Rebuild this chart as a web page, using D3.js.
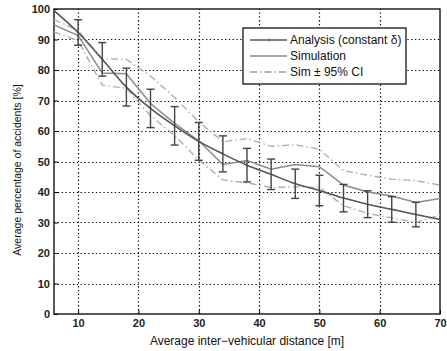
<!DOCTYPE html>
<html>
<head>
<meta charset="utf-8">
<script src="https://cdn.jsdelivr.net/npm/d3@7"></script>
<style>
  body { margin: 0; background: #fff; }
  text { font-family: "Liberation Sans", Arial, sans-serif; }
</style>
</head>
<body>
<div id="chart"></div>
<script>
"use strict";

// distances [m]
const distances = [6, 10, 14, 18, 22, 26, 30, 34, 38, 42, 46, 50, 54, 58, 62, 66, 70];

// analysis curve (constant delta) and its error bars (half width, null = no bar)
const analysis = [99.5, 92.3, 83.5, 74.4, 67.4, 61.7, 56.6, 52.5, 48.8, 45.8, 42.7, 40.5, 38.0, 36.0, 34.3, 32.6, 31.0];
const analysisErr = [null, 4.2, 5.5, 6.2, 6.3, 6.3, 6.2, 5.9, 5.5, 5.0, 4.8, 5.0, 4.5, 4.4, 4.2, 4.0, null];

// simulation and its 95% confidence band
const simulation = [94.8, 91.3, 79.0, 78.8, 69.0, 62.5, 56.8, 49.0, 50.3, 47.5, 49.0, 48.3, 42.3, 40.0, 38.7, 36.6, 37.9];
const simUpper = [96.5, 93.0, 83.7, 83.5, 78.0, 71.0, 63.0, 56.5, 57.5, 55.0, 55.5, 54.0, 47.0, 45.5, 44.2, 43.7, 42.3];
const simLower = [92.5, 89.6, 75.0, 74.0, 65.0, 58.5, 50.5, 44.0, 43.0, 41.5, 41.7, 41.5, 35.5, 33.0, 31.5, 30.0, 32.5];

const xTicks = [10, 20, 30, 40, 50, 60, 70];
const yTicks = [0, 10, 20, 30, 40, 50, 60, 70, 80, 90, 100];

const legendLabels = ['Analysis (constant \u03b4)', 'Simulation', 'Sim \u00b1 95% CI'];

const width = 447
    , height = 351
    , margin = { top: 9, right: 7, bottom: 37, left: 54 }

const svg = d3.select('#chart').append('svg')
    .attr('width', width)
    .attr('height', height)

const x = d3.scaleLinear()
  .domain([6, 70])
  .range([margin.left, width - margin.right])

const y = d3.scaleLinear()
  .domain([0, 100])
  .range([height - margin.bottom, margin.top])

/*
 * dotted grid
 ***/
const grid = svg.append('g').attr('class', 'grid')

grid.selectAll('line.gx')
  .data(xTicks.filter(d => d < 70))
  .enter().append('line')
  .attr('class', 'gx')
  .attr('x1', d => Math.round(x(d)) + 0.5)
  .attr('x2', d => Math.round(x(d)) + 0.5)
  .attr('y1', y(0))
  .attr('y2', y(100))
  .attr('stroke', '#000')
  .attr('stroke-width', 1.2)
  .attr('stroke-dasharray', '1.3,2.5')

grid.selectAll('line.gy')
  .data(yTicks.filter(d => d > 0 && d < 100))
  .enter().append('line')
  .attr('class', 'gy')
  .attr('x1', x(6))
  .attr('x2', x(70))
  .attr('y1', d => Math.round(y(d)) + 0.5)
  .attr('y2', d => Math.round(y(d)) + 0.5)
  .attr('stroke', '#000')
  .attr('stroke-width', 1.2)
  .attr('stroke-dasharray', '1.3,2.5')

/*
 * axes
 ***/
const xAxis = d3.axisBottom(x)
  .tickValues(xTicks)
  .tickSize(-4)
  .tickPadding(5)

const yAxis = d3.axisLeft(y)
  .tickValues(yTicks)
  .tickSize(-4)
  .tickPadding(4)

const xAxisG = svg.append('g')
  .attr('transform', `translate(0,${y(0)})`)
  .call(xAxis)

const yAxisG = svg.append('g')
  .attr('transform', `translate(${x(6)},0)`)
  .call(yAxis)

;[xAxisG, yAxisG].forEach(g => {
  g.select('path.domain').remove()
  g.selectAll('line').attr('stroke', '#000')
  g.selectAll('text')
    .style('font-size', '11px')
    .style('font-weight', 'bold')
    .attr('fill', '#222')
})

// frame around the plot
svg.append('rect')
  .attr('x', x(6))
  .attr('y', y(100))
  .attr('width', x(70) - x(6))
  .attr('height', y(0) - y(100))
  .attr('fill', 'none')
  .attr('stroke', '#000')
  .attr('stroke-width', 1.3)

/*
 * series
 ***/
const pts = arr => distances.map((d, i) => [d, arr[i]])
const line = d3.line().x(d => x(d[0])).y(d => y(d[1]))

const plot = svg.append('g')

plot.append('path')
  .datum(pts(simUpper))
  .attr('d', line)
  .attr('fill', 'none')
  .attr('stroke', '#aaa')
  .attr('stroke-width', 1.3)
  .attr('stroke-dasharray', '7,3,1.5,3')

plot.append('path')
  .datum(pts(simLower))
  .attr('d', line)
  .attr('fill', 'none')
  .attr('stroke', '#aaa')
  .attr('stroke-width', 1.3)
  .attr('stroke-dasharray', '7,3,1.5,3')

plot.append('path')
  .datum(pts(simulation))
  .attr('d', line)
  .attr('fill', 'none')
  .attr('stroke', '#8a8a8a')
  .attr('stroke-width', 1.5)

plot.append('path')
  .datum(pts(analysis))
  .attr('d', line.curve(d3.curveMonotoneX))
  .attr('fill', 'none')
  .attr('stroke', '#555')
  .attr('stroke-width', 1.6)

// error bars
const bars = distances
  .map((d, i) => ({ d, v: analysis[i], e: analysisErr[i] }))
  .filter(b => b.e !== null)

const CAP = 4

const barG = plot.selectAll('g.err')
  .data(bars)
  .enter().append('g')
  .attr('class', 'err')
  .attr('stroke', '#444')
  .attr('stroke-width', 1.4)

barG.append('line')
  .attr('x1', b => x(b.d)).attr('x2', b => x(b.d))
  .attr('y1', b => y(b.v + b.e)).attr('y2', b => y(b.v - b.e))
barG.append('line')
  .attr('x1', b => x(b.d) - CAP).attr('x2', b => x(b.d) + CAP)
  .attr('y1', b => y(b.v + b.e)).attr('y2', b => y(b.v + b.e))
barG.append('line')
  .attr('x1', b => x(b.d) - CAP).attr('x2', b => x(b.d) + CAP)
  .attr('y1', b => y(b.v - b.e)).attr('y2', b => y(b.v - b.e))

/*
 * legend
 ***/
const legend = svg.append('g').attr('transform', 'translate(243,28)')

legend.append('rect')
  .attr('width', 163)
  .attr('height', 56)
  .attr('fill', '#fff')
  .attr('stroke', '#000')
  .attr('stroke-width', 1.2)

const legendStyles = [
  { stroke: '#555', dash: null, width: 1.6 },
  { stroke: '#8a8a8a', dash: null, width: 1.5 },
  { stroke: '#999', dash: '7,3,1.5,3', width: 1.3 }
]

const rows = legend.selectAll('g.row')
  .data(legendLabels)
  .enter().append('g')
  .attr('class', 'row')
  .attr('transform', (d, i) => `translate(0,${12 + i * 16})`)

rows.append('line')
  .attr('x1', 7).attr('x2', 44)
  .attr('stroke', (d, i) => legendStyles[i].stroke)
  .attr('stroke-width', (d, i) => legendStyles[i].width)
  .attr('stroke-dasharray', (d, i) => legendStyles[i].dash)

legend.append('line')
  .attr('x1', 26).attr('x2', 26)
  .attr('y1', 10).attr('y2', 14)
  .attr('stroke', '#888')

rows.append('text')
  .attr('x', 47)
  .attr('dy', '0.35em')
  .style('font-size', '12px')
  .attr('fill', '#111')
  .text(d => d)

/*
 * axis titles
 ***/
svg.append('text')
  .attr('x', (x(6) + x(70)) / 2)
  .attr('y', 345)
  .attr('text-anchor', 'middle')
  .style('font-size', '12px')
  .attr('fill', '#111')
  .text('Average inter\u2212vehicular distance [m]')

svg.append('text')
  .attr('transform', 'translate(21,170) rotate(-90)')
  .attr('text-anchor', 'middle')
  .style('font-size', '10.5px')
  .attr('fill', '#111')
  .text('Average percentage of accidents [%]')
</script>
</body>
</html>
